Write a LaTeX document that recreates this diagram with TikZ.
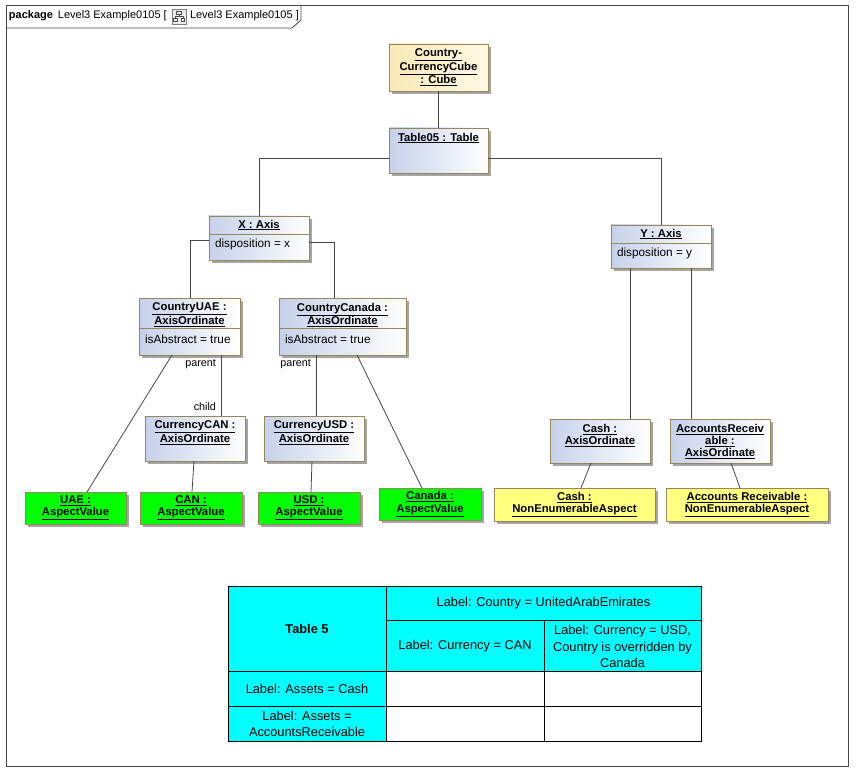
\documentclass[tikz,border=0pt]{standalone}
\usepackage{fontspec}
\setmainfont{Liberation Sans}
\usepackage{tikz}
\usetikzlibrary{shadows,positioning}

\definecolor{umlborder}{RGB}{150,135,90}
\definecolor{objblue}{RGB}{198,209,234}
\definecolor{cubedark}{RGB}{250,232,182}
\definecolor{cubelight}{RGB}{255,249,228}
\definecolor{avgreen}{RGB}{0,255,0}
\definecolor{neayellow}{RGB}{255,255,128}
\definecolor{tabcyan}{RGB}{0,255,255}
\definecolor{shadowgray}{RGB}{165,165,165}
\definecolor{linkgray}{RGB}{70,70,70}

\newcommand{\uln}[1]{\underline{#1}}

\begin{document}
\begin{tikzpicture}[x=1pt, y=-1pt,
	every node/.style={inner sep=1pt, outer sep=0pt},
	boxsize/.style 2 args={minimum width=#1pt, minimum height=#2pt},
	obj/.style={draw=umlborder, line width=0.8pt, left color=objblue, right color=white,
		drop shadow={shadow xshift=3pt, shadow yshift=-3pt, fill=shadowgray, opacity=1}},
	cubeobj/.style={obj, left color=cubedark, right color=cubelight},
	aspect/.style={obj, fill=avgreen, left color=avgreen, right color=avgreen},
	nea/.style={obj, left color=neayellow, right color=neayellow},
	ttl/.style={font=\fontsize{11.3}{12.2}\selectfont\bfseries, align=center},
	attr/.style={font=\fontsize{11.8}{13}\selectfont, anchor=west},
	hdr/.style={font=\fontsize{11}{12}\selectfont, anchor=west},
	role/.style={font=\fontsize{10.8}{12}\selectfont, inner sep=0pt},
	link/.style={draw=linkgray, line width=0.8pt},
	cell/.style={font=\fontsize{12.8}{16.5}\selectfont, align=center},
	tabline/.style={draw=black, line width=0.9pt}]

	\useasboundingbox (0,0) rectangle (863,781);

	% package frame
	\draw[line width=0.8pt, draw=linkgray] (6,5) rectangle (848,766);
	\draw[line width=0.8pt, draw=linkgray] (6,28) -- (292,28) -- (301,20) -- (301,5);
	\node[hdr] (pkg) at (8,15.5) {\textbf{package}\, Level3 Example0105 [};
	\draw[gray, fill=gray!15] (172,9) rectangle (186,24);
	\draw[black!70, line width=0.6pt] (176.5,11.5) rectangle (181.5,14.5);
	\draw[black!70, line width=0.6pt] (179,14.5) -- (179,16.5) (175,16.5) -- (183,16.5)
		(175,16.5) -- (175,18.5) (183,16.5) -- (183,18.5);
	\draw[black!70, line width=0.6pt] (173.5,18.5) rectangle (177,21.5) (181,18.5) rectangle (184.5,21.5);
	\node[hdr] (pkgname) at (189,15.5) {Level3 Example0105 ]};

	% cube and table
	\node[cubeobj, boxsize={99}{47}, ttl] (cube) at (438.5,67.5) {\uln{Country-}\\\uln{CurrencyCube}\\\uln{: Cube}};
	\node[obj, boxsize={99}{45}] (tab) at (438.5,150.5) {};
	\node[ttl, below=4pt of tab.north] (tabt) {\uln{Table05 : Table}};

	% axes
	\node[obj, boxsize={100}{44}] (xax) at (259,238) {};
	\node[ttl, below=3pt of xax.north] (xaxt) {\uln{X : Axis}};
	\draw[draw=umlborder, line width=0.8pt] (xax.west |- 0,234) -- (xax.east |- 0,234);
	\node[attr] (xaxa) at (214,244) {disposition = x};

	\node[obj, boxsize={100}{43}] (yax) at (661,246.5) {};
	\node[ttl, below=3pt of yax.north] (yaxt) {\uln{Y : Axis}};
	\draw[draw=umlborder, line width=0.8pt] (yax.west |- 0,243) -- (yax.east |- 0,243);
	\node[attr] (yaxa) at (616,253) {disposition = y};

	% ordinates
	\node[obj, boxsize={101}{57}] (uae) at (189.5,326.5) {};
	\node[ttl, below=4pt of uae.north] (uaet) {\uln{CountryUAE :}\\\uln{AxisOrdinate}};
	\draw[draw=umlborder, line width=0.8pt] (uae.west |- 0,328) -- (uae.east |- 0,328);
	\node[attr] (uaea) at (144,339) {isAbstract = true};

	\node[obj, boxsize={127}{57}] (cad) at (342.5,326.5) {};
	\node[ttl, below=4pt of cad.north] (cadt) {\uln{CountryCanada :}\\\uln{AxisOrdinate}};
	\draw[draw=umlborder, line width=0.8pt] (cad.west |- 0,328) -- (cad.east |- 0,328);
	\node[attr] (cada) at (284,339) {isAbstract = true};

	\node[obj, boxsize={100}{45}] (ccan) at (195,438.5) {};
	\node[ttl, below=4pt of ccan.north] (ccant) {\uln{CurrencyCAN :}\\\uln{AxisOrdinate}};
	\node[obj, boxsize={100}{45}] (cusd) at (314,438.5) {};
	\node[ttl, below=4pt of cusd.north] (cusdt) {\uln{CurrencyUSD :}\\\uln{AxisOrdinate}};

	\node[obj, boxsize={100}{44}] (cash) at (600,441) {};
	\node[ttl, below=4pt of cash.north] (casht) {\uln{Cash :}\\\uln{AxisOrdinate}};
	\node[obj, boxsize={100}{44}] (arec) at (720,441) {};
	\node[ttl, below=4pt of arec.north] (arect) {\uln{AccountsReceiv}\\\uln{able :}\\\uln{AxisOrdinate}};

	% aspect values
	\node[aspect, boxsize={101}{32}, ttl] (vuae) at (75.5,508) {\uln{UAE :}\\\uln{AspectValue}};
	\node[aspect, boxsize={102}{32}, ttl] (vcan) at (191,508) {\uln{CAN :}\\\uln{AspectValue}};
	\node[aspect, boxsize={102}{32}, ttl] (vusd) at (309,508) {\uln{USD :}\\\uln{AspectValue}};
	\node[aspect, boxsize={102}{32}, ttl] (vcad) at (430,504) {\uln{Canada :}\\\uln{AspectValue}};
	\node[nea, boxsize={161}{33}, ttl] (ncash) at (574.5,504.5) {\uln{Cash :}\\\uln{NonEnumerableAspect}};
	\node[nea, boxsize={162}{33}, ttl] (nar) at (747,504.5) {\uln{Accounts Receivable :}\\\uln{NonEnumerableAspect}};

	% connectors
	\draw[link] (cube.south) -- (tab.north);
	\draw[link] ([yshift=-7.5pt]tab.west) -| (xax.north);
	\draw[link] ([yshift=-7.5pt]tab.east) -| (yax.north);
	\draw[link] ([yshift=-2pt]xax.west) -| ([xshift=0.5pt]uae.north);
	\draw[link] ([yshift=-4pt]xax.east) -| ([xshift=-8.5pt]cad.north);
	\draw[link] (uae.south -| 221,0) -- node[role, pos=0.15, left=5pt] {parent}
		node[role, pos=0.85, left=5pt] {child} (ccan.north -| 221,0);
	\draw[link] (cad.south -| 316,0) -- node[role, pos=0.15, left=5pt] {parent} (cusd.north -| 316,0);
	\draw[link] ([xshift=-17.5pt]uae.south) -- ([xshift=11.5pt]vuae.north);
	\draw[link] ([xshift=14.5pt]cad.south) -- ([xshift=-8pt]vcad.north);
	\draw[link] ([xshift=-1pt]ccan.south) -- ([xshift=1pt]vcan.north);
	\draw[link] ([xshift=-2pt]cusd.south) -- ([xshift=2pt]vusd.north);
	\draw[link] (yax.south -| 630,0) -- (cash.north -| 630,0);
	\draw[link] (yax.south -| 691,0) -- (arec.north -| 691,0);
	\draw[link] ([xshift=-9pt]cash.south) -- ([xshift=6.5pt]ncash.north);
	\draw[link] ([xshift=11pt]arec.south) -- ([xshift=-7pt]nar.north);

	% table 5
	\fill[tabcyan] (228,586) rectangle (701,671);
	\fill[tabcyan] (228,671) rectangle (386,741);
	\draw[tabline] (228,586) rectangle (701,741);
	\draw[tabline] (386,586) -- (386,741);
	\draw[tabline] (544,620) -- (544,741);
	\draw[tabline] (386,620) -- (701,620);
	\draw[tabline] (228,671) -- (701,671);
	\draw[tabline] (228,706) -- (701,706);
	\node[cell] (ttitle) at (307,628.5) {\textbf{Table 5}};
	\node[cell] (tcountry) at (543.5,603) {Label: Country = UnitedArabEmirates};
	\node[cell] (tcan) at (465,646.5) {Label: Currency = CAN};
	\node[cell] (tusd) at (622.5,646.5) {Label: Currency = USD,\\Country is overridden by\\Canada};
	\node[cell] (tcash) at (307,689) {Label: Assets = Cash};
	\node[cell] (tar) at (307,724) {Label: Assets =\\AccountsReceivable};

\end{tikzpicture}
\end{document}
